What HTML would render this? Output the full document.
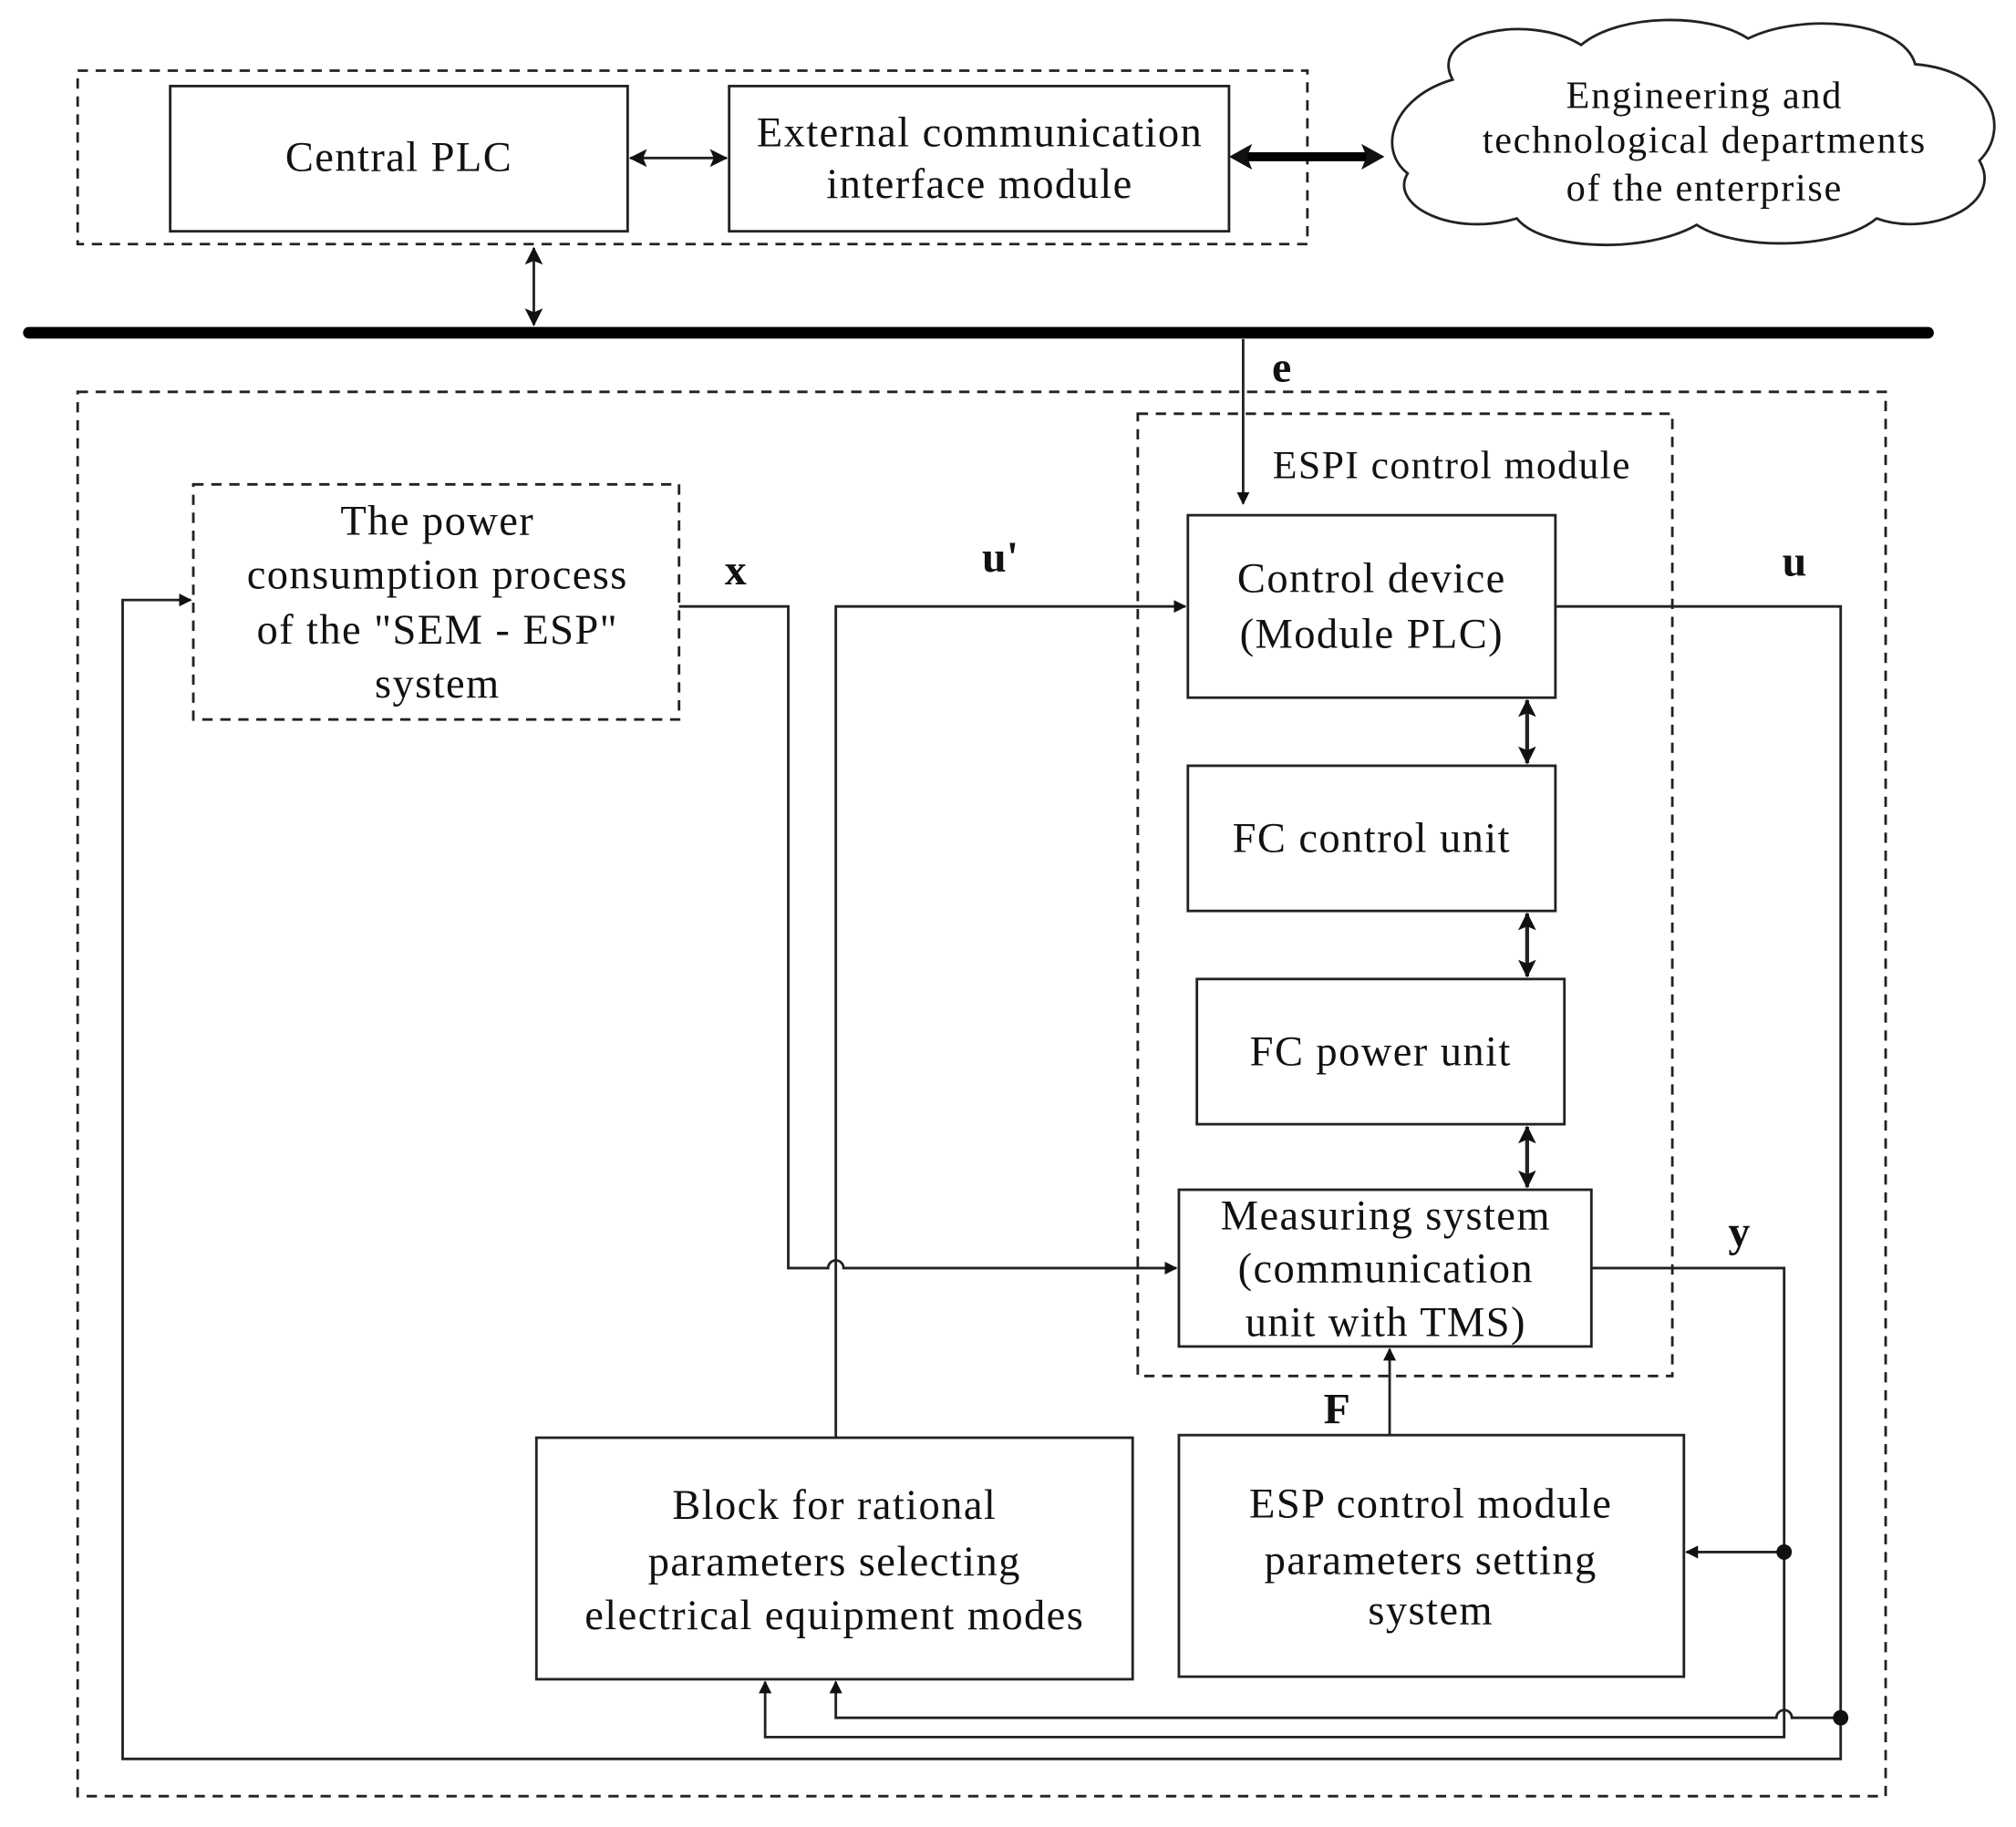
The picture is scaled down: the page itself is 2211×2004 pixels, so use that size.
<!DOCTYPE html>
<html><head><meta charset="utf-8"><style>
html,body{margin:0;padding:0;background:#fff}
svg{display:block}
text{font-family:"Liberation Serif",serif;fill:#111}
</style></head><body>
<svg width="2211" height="2004" viewBox="0 0 1568 1422" xmlns="http://www.w3.org/2000/svg">
<defs>
<marker id="a" markerWidth="10" markerHeight="10" refX="9" refY="5" orient="auto-start-reverse" markerUnits="userSpaceOnUse"><path d="M0,0 L10,5 L0,10 Z" fill="#111"/></marker>
<marker id="b" markerWidth="14" markerHeight="14" refX="13" refY="7" orient="auto-start-reverse" markerUnits="userSpaceOnUse"><path d="M0,0 L14,7 L0,14 L3,7 Z" fill="#111"/></marker>
<marker id="t" markerWidth="18" markerHeight="20" refX="17" refY="10" orient="auto-start-reverse" markerUnits="userSpaceOnUse"><path d="M0,0 L18,10 L0,20 L4,10 Z" fill="#111"/></marker>
</defs>
<rect width="1568" height="1422" fill="#fff"/>
<g fill="none" stroke="#222" stroke-width="2">
<rect x="60" y="55" width="957" height="135" stroke-dasharray="8,6"/>
<rect x="132" y="67" width="356" height="113"/>
<rect x="567" y="67" width="389" height="113"/>
<rect x="60" y="305" width="1407" height="1093" stroke-dasharray="8,6"/>
<rect x="885" y="322" width="416" height="749" stroke-dasharray="8,6"/>
<rect x="150" y="377" width="378" height="183" stroke-dasharray="8,6"/>
<rect x="924" y="401" width="286" height="142"/>
<rect x="924" y="596" width="286" height="113"/>
<rect x="931" y="762" width="286" height="113"/>
<rect x="917" y="926" width="321" height="122"/>
<rect x="417" y="1119" width="464" height="188"/>
<rect x="917" y="1117" width="393" height="188"/>
<path d="M1130,62 C1110,25 1190,10 1230,35 C1260,10 1330,10 1360,30 C1400,10 1480,15 1490,50 C1550,55 1565,100 1540,125 C1560,160 1500,185 1460,170 C1430,195 1350,195 1320,175 C1280,198 1200,195 1180,170 C1130,185 1080,160 1095,135 C1070,115 1085,75 1130,62 Z"/>
<line x1="22" y1="259" x2="1500" y2="259" stroke="#000" stroke-width="9" stroke-linecap="round"/>
<line x1="966" y1="122" x2="1067" y2="122" stroke="#000" stroke-width="7"/>
<line x1="1060" y1="122" x2="1076" y2="122" stroke="#000" stroke-width="1" marker-end="url(#t)"/>
<line x1="973" y1="122" x2="957" y2="122" stroke="#000" stroke-width="1" marker-end="url(#t)"/>
<line x1="490" y1="123" x2="565" y2="123" marker-start="url(#b)" marker-end="url(#b)"/>
<line x1="415" y1="193" x2="415" y2="253" marker-start="url(#b)" marker-end="url(#b)"/>
<line x1="1188" y1="545" x2="1188" y2="594" stroke-width="3" marker-start="url(#b)" marker-end="url(#b)"/>
<line x1="1188" y1="711" x2="1188" y2="760" stroke-width="3" marker-start="url(#b)" marker-end="url(#b)"/>
<line x1="1188" y1="877" x2="1188" y2="924" stroke-width="3" marker-start="url(#b)" marker-end="url(#b)"/>
<line x1="967" y1="264" x2="967" y2="392" marker-end="url(#a)"/>
<path d="M528,472 H613 V987 H644 A6,6 0 0 1 656,987 H915" marker-end="url(#a)"/>
<path d="M650,1119 V472 H922" marker-end="url(#a)"/>
<path d="M1210,472 H1432 V1337 H1394 A6,6 0 0 0 1382,1337 H650 V1309" marker-end="url(#a)"/>
<path d="M1238,987 H1388 V1352 H595 V1309" marker-end="url(#a)"/>
<path d="M1388,1208 H1312" marker-end="url(#a)"/>
<path d="M1432,1337 V1369 H95 V467 H148" marker-end="url(#a)"/>
<path d="M1081,1117 V1050" marker-end="url(#a)"/>
</g>
<circle cx="1388" cy="1208" r="6" fill="#111"/>
<circle cx="1432" cy="1337" r="6" fill="#111"/>
<g font-size="33" letter-spacing="1" text-anchor="middle">
<text x="310" y="133">Central PLC</text>
<text x="762" y="114">External communication</text>
<text x="762" y="154">interface module</text>
<text x="340" y="416">The power</text>
<text x="340" y="458">consumption process</text>
<text x="340" y="501">of the "SEM - ESP"</text>
<text x="340" y="543">system</text>
<text x="1067" y="461">Control device</text>
<text x="1067" y="504">(Module PLC)</text>
<text x="1067" y="663">FC control unit</text>
<text x="1074" y="829">FC power unit</text>
<text x="1078" y="957">Measuring system</text>
<text x="1078" y="998">(communication</text>
<text x="1078" y="1040">unit with TMS)</text>
<text x="649" y="1182">Block for rational</text>
<text x="649" y="1226">parameters selecting</text>
<text x="649" y="1268">electrical equipment modes</text>
<text x="1113" y="1181">ESP control module</text>
<text x="1113" y="1225">parameters setting</text>
<text x="1113" y="1264">system</text>
</g>
<g font-size="30" letter-spacing="1.2" text-anchor="middle">
<text x="1326" y="84">Engineering and</text>
<text x="1326" y="119">technological departments</text>
<text x="1326" y="156">of the enterprise</text>
</g>
<text x="990" y="372" font-size="31" letter-spacing="1">ESPI control module</text>
<g font-size="34" font-weight="bold" text-anchor="middle">
<text x="997" y="297">e</text>
<text x="572" y="455">x</text>
<text x="778" y="445">u'</text>
<text x="1396" y="448">u</text>
<text x="1353" y="970">y</text>
<text x="1040" y="1108">F</text>
</g>
</svg>
</body></html>
